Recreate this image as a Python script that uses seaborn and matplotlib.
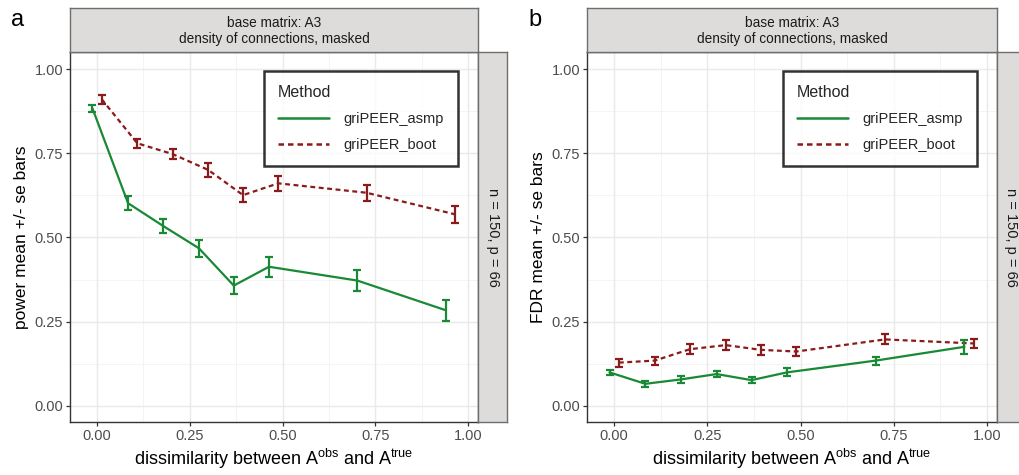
import numpy as np
import pandas as pd
import matplotlib
matplotlib.use("Agg")
import matplotlib.pyplot as plt
import seaborn as sns

# ---------------- data ----------------
methods = ["griPEER_asmp", "griPEER_boot"]
dissimilarity = [0.000, 0.096, 0.191, 0.287, 0.381, 0.476, 0.714, 0.952]

power_asmp = [0.884, 0.602, 0.534, 0.468, 0.357, 0.413, 0.372, 0.284]
power_asmp_se = [0.010, 0.020, 0.022, 0.025, 0.026, 0.030, 0.030, 0.031]
power_boot = [0.911, 0.780, 0.748, 0.701, 0.626, 0.661, 0.633, 0.569]
power_boot_se = [0.013, 0.013, 0.016, 0.020, 0.021, 0.023, 0.024, 0.026]

fdr_asmp = [0.099, 0.065, 0.078, 0.094, 0.076, 0.099, 0.134, 0.175]
fdr_asmp_se = [0.008, 0.008, 0.010, 0.010, 0.010, 0.012, 0.012, 0.021]
fdr_boot = [0.128, 0.134, 0.168, 0.180, 0.166, 0.161, 0.197, 0.185]
fdr_boot_se = [0.012, 0.012, 0.014, 0.014, 0.014, 0.013, 0.015, 0.013]

y_ticks = [0.00, 0.25, 0.50, 0.75, 1.00]
x_ticks = [0.00, 0.25, 0.50, 0.75, 1.00]
panel_labels = ["a", "b"]
y_titles = ["power mean +/- se bars", "FDR mean +/- se bars"]
x_title = r"dissimilarity between A$^{\mathregular{obs}}$ and A$^{\mathregular{true}}$"
strip_top = "base matrix: A3\ndensity of connections, masked"
strip_right = "n = 150, p = 66"

# ---------------- style ----------------
sns.set_theme(style="white")
plt.rcParams["font.family"] = ["Liberation Sans", "DejaVu Sans"]
plt.rcParams["mathtext.fontset"] = "custom"
plt.rcParams["mathtext.rm"] = "Liberation Sans"

palette = {"griPEER_asmp": "#1A8935", "griPEER_boot": "#8B1A1A"}
dashes = {"griPEER_asmp": "", "griPEER_boot": (2.2, 1.6)}
dodge = {"griPEER_asmp": -0.0125, "griPEER_boot": 0.0125}


def make_df(asmp, asmp_se, boot, boot_se):
    rows = []
    for m, vals, ses in [(methods[0], asmp, asmp_se), (methods[1], boot, boot_se)]:
        for x, v, s in zip(dissimilarity, vals, ses):
            rows.append({"Method": m, "x": x + dodge[m], "y": v, "se": s})
    return pd.DataFrame(rows)


dfs = [make_df(power_asmp, power_asmp_se, power_boot, power_boot_se),
       make_df(fdr_asmp, fdr_asmp_se, fdr_boot, fdr_boot_se)]

W, H = 1019, 475
fig = plt.figure(figsize=(W / 100, H / 100), dpi=100)

panels_px = [(70, 478), (587, 997)]
top_px, bot_px = 52, 422
strip_w = 29

for i, (x0, x1) in enumerate(panels_px):
    df = dfs[i]
    ax = fig.add_axes([x0 / W, 1 - bot_px / H, (x1 - x0) / W, (bot_px - top_px) / H])
    ax.set_facecolor("white")
    # grid
    for v in [0.125, 0.375, 0.625, 0.875]:
        ax.axhline(v, color="#F4F2F2", lw=0.6, zorder=0)
        ax.axvline(v, color="#F4F2F2", lw=0.6, zorder=0)
    for v in x_ticks:
        ax.axvline(v, color="#EBE9E9", lw=1.0, zorder=0)
    for v in y_ticks:
        ax.axhline(v, color="#EBE9E9", lw=1.0, zorder=0)

    sns.lineplot(data=df, x="x", y="y", hue="Method", style="Method",
                 palette=palette, dashes=dashes, linewidth=1.6, ax=ax,
                 hue_order=methods, style_order=methods, legend="full", zorder=3)
    for m in methods:
        sub = df[df["Method"] == m]
        ax.errorbar(sub["x"], sub["y"], yerr=sub["se"], fmt="none",
                    ecolor=palette[m], elinewidth=1.6, capsize=3.0,
                    capthick=1.6, zorder=4)

    ax.set_xlim(-0.073, 1.027)
    ax.set_ylim(-0.0485, 1.0514)
    ax.set_xticks(x_ticks)
    ax.set_xticklabels([f"{v:.2f}" for v in x_ticks])
    ax.set_yticks(y_ticks)
    ax.set_yticklabels([f"{v:.2f}" for v in y_ticks])
    ax.tick_params(axis="both", which="major", length=3, width=0.9,
                   color="#333333", labelcolor="#4D4D4D", labelsize=10.5,
                   pad=2, bottom=True, left=True)
    for s in ax.spines.values():
        s.set_color("#333333")
        s.set_linewidth(1.0)
    ax.set_xlabel(x_title, fontsize=13, color="black", labelpad=3)
    ax.set_ylabel(y_titles[i], fontsize=12.5, color="black", labelpad=4)

    handles, labels = ax.get_legend_handles_labels()
    leg = ax.legend(handles=handles[-2:], labels=labels[-2:], title="Method",
                    loc="upper right", bbox_to_anchor=(0.951, 0.9486),
                    borderaxespad=0.0,
                    fontsize=10.5, title_fontsize=11.5, frameon=True,
                    fancybox=False, edgecolor="black", handlelength=3.5,
                    handletextpad=1.0, labelspacing=0.78, borderpad=0.95,
                    alignment="left")
    leg.get_frame().set_linewidth(1.8)
    leg._legend_box.sep = 9
    for lh in leg.get_lines():
        lh.set_linewidth(1.8)

    # top strip
    sax = fig.add_axes([x0 / W, 1 - top_px / H, (x1 - x0) / W, (top_px - 8) / H])
    sax.set_facecolor("#DEDCDA")
    sax.set_xticks([]); sax.set_yticks([])
    for s in sax.spines.values():
        s.set_color("#6E6E6E"); s.set_linewidth(1.0)
    sax.text(0.5, 0.48, strip_top, ha="center", va="center", fontsize=9.8,
             color="#1A1A1A", linespacing=1.15, transform=sax.transAxes)

    # right strip
    rax = fig.add_axes([x1 / W, 1 - bot_px / H, strip_w / W, (bot_px - top_px) / H])
    rax.set_facecolor("#DEDCDA")
    rax.set_xticks([]); rax.set_yticks([])
    for s in rax.spines.values():
        s.set_color("#6E6E6E"); s.set_linewidth(1.0)
    rax.text(0.5, 0.5, strip_right, ha="center", va="center", rotation=-90,
             fontsize=10.5, color="#1A1A1A", transform=rax.transAxes)

    # panel label
    fig.text((x0 - 52) / W, 1 - 20 / H, panel_labels[i], fontsize=17,
             ha="center", va="center", color="black")

fig.savefig("out.png", dpi=100)
